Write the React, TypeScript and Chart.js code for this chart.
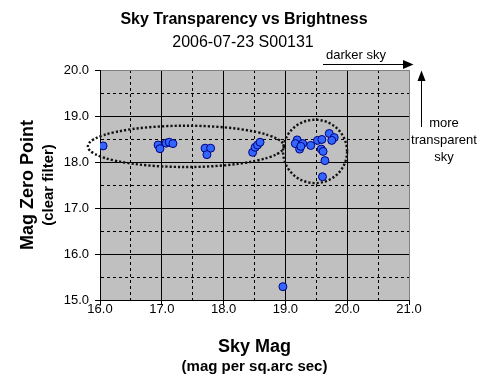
import React, { useEffect, useRef } from 'react';
import { Chart, registerables } from 'chart.js';

Chart.register(...registerables);

// Data
const skyMag = [
  16.05, 16.94, 16.97, 17.07, 17.12, 17.18, 17.70, 17.79, 17.73,
  18.47, 18.51, 18.55, 18.59, 18.96,
  19.19, 19.16, 19.28, 19.23, 19.25, 19.41, 19.52, 19.59, 19.58,
  19.61, 19.64, 19.60, 19.71, 19.79, 19.75,
];
const zeroPoint = [
  18.35, 18.37, 18.29, 18.41, 18.43, 18.40, 18.30, 18.30, 18.16,
  18.21, 18.32, 18.37, 18.43, 15.29,
  18.48, 18.40, 18.40, 18.28, 18.34, 18.36, 18.47, 18.49, 18.28,
  18.23, 18.03, 17.68, 18.62, 18.53, 18.47,
];

const xRange = [16, 21];
const yRange = [15, 20];

// Highlight ellipses (data units): centre x, centre y, radius x, radius y
const ellipseCx = [17.39, 19.48];
const ellipseCy = [18.34, 18.23];
const ellipseRx = [1.586, 0.518];
const ellipseRy = [0.449, 0.689];

const titleText = 'Sky Transparency vs Brightness';
const subtitleText = '2006-07-23 S00131';
const xTitle = 'Sky Mag';
const xSubTitle = '(mag per sq.arc sec)';
const yTitle = 'Mag Zero Point';
const ySubTitle = '(clear filter)';
const noteDarker = 'darker sky';
const noteTransparent = ['more', 'transparent', 'sky'];

const FONT = '"Liberation Sans", Arial, sans-serif';

const isMajor = (v: number) => Math.abs(v - Math.round(v)) < 1e-6;

const decorPlugin = {
  id: 'decor',
  beforeDraw(chart: any) {
    const { ctx, chartArea } = chart;
    ctx.save();
    ctx.fillStyle = '#c0c0c0';
    ctx.fillRect(chartArea.left, chartArea.top, chartArea.right - chartArea.left, chartArea.bottom - chartArea.top);
    ctx.restore();
  },
  afterDatasetsDraw(chart: any) {
    const { ctx } = chart;
    const xs = chart.scales.x;
    const ys = chart.scales.y;
    ctx.save();
    ctx.strokeStyle = '#111';
    ctx.lineWidth = 2.4;
    ctx.setLineDash([2.2, 2]);
    for (let i = 0; i < ellipseCx.length; i++) {
      const cx = xs.getPixelForValue(ellipseCx[i]);
      const cy = ys.getPixelForValue(ellipseCy[i]);
      const rx = Math.abs(xs.getPixelForValue(ellipseCx[i] + ellipseRx[i]) - cx);
      const ry = Math.abs(ys.getPixelForValue(ellipseCy[i] + ellipseRy[i]) - cy);
      ctx.beginPath();
      ctx.ellipse(cx, cy, rx, ry, 0, 0, Math.PI * 2);
      ctx.stroke();
    }
    ctx.restore();
  },
  afterDraw(chart: any) {
    const { ctx, chartArea } = chart;
    const midX = (chartArea.left + chartArea.right) / 2;
    const midY = (chartArea.top + chartArea.bottom) / 2;
    ctx.save();
    ctx.fillStyle = '#000';
    ctx.textAlign = 'center';
    ctx.textBaseline = 'alphabetic';
    // titles
    ctx.font = `bold 16px ${FONT}`;
    ctx.fillText(titleText, 244, 24);
    ctx.font = `16px ${FONT}`;
    ctx.fillText(subtitleText, 243, 47);
    // x axis titles
    ctx.font = `bold 18px ${FONT}`;
    ctx.fillText(xTitle, midX, 352);
    ctx.font = `bold 15px ${FONT}`;
    ctx.fillText(xSubTitle, midX, 371);
    // y axis titles
    ctx.save();
    ctx.translate(33, midY);
    ctx.rotate(-Math.PI / 2);
    ctx.font = `bold 18px ${FONT}`;
    ctx.fillText(yTitle, 0, 0);
    ctx.restore();
    ctx.save();
    ctx.translate(53, midY);
    ctx.rotate(-Math.PI / 2);
    ctx.font = `bold 15px ${FONT}`;
    ctx.fillText(ySubTitle, 0, 0);
    ctx.restore();
    // notes
    ctx.font = `13px ${FONT}`;
    ctx.fillText(noteDarker, 356, 59);
    const lineY = [127, 144, 161];
    noteTransparent.forEach((t, i) => ctx.fillText(t, 444, lineY[i]));
    // horizontal arrow
    ctx.strokeStyle = '#000';
    ctx.lineWidth = 1;
    ctx.beginPath();
    ctx.moveTo(323, 64.5);
    ctx.lineTo(404, 64.5);
    ctx.stroke();
    ctx.beginPath();
    ctx.moveTo(403, 60);
    ctx.lineTo(413.5, 64.5);
    ctx.lineTo(403, 69);
    ctx.closePath();
    ctx.fill();
    // vertical arrow
    ctx.beginPath();
    ctx.moveTo(421.5, 80);
    ctx.lineTo(421.5, 127);
    ctx.stroke();
    ctx.beginPath();
    ctx.moveTo(417.5, 81);
    ctx.lineTo(421.5, 70.5);
    ctx.lineTo(425.5, 81);
    ctx.closePath();
    ctx.fill();
    ctx.restore();
  },
};

export default function App() {
  const canvasRef = useRef<HTMLCanvasElement | null>(null);

  useEffect(() => {
    document.body.style.margin = '0';
    const canvas = canvasRef.current;
    if (!canvas) return;
    const points = skyMag.map((x, i) => ({ x, y: zeroPoint[i] }));
    const tickCb = (v: any) => (isMajor(Number(v)) ? Number(v).toFixed(1) : '');
    const gridColor = (max: number) => (c: any) =>
      c.tick && Math.abs(c.tick.value - max) < 1e-6 ? '#808080' : '#000';
    const tickColor = (c: any) => (c.tick && isMajor(c.tick.value) ? '#000' : 'rgba(0,0,0,0)');
    const dash = (c: any) => (c.tick && !isMajor(c.tick.value) ? [3, 3] : []);

    const chart = new Chart(canvas, {
      type: 'scatter',
      data: {
        datasets: [
          {
            data: points,
            pointRadius: 4,
            pointHoverRadius: 4,
            backgroundColor: '#3366ff',
            borderColor: '#000080',
            borderWidth: 1,
            showLine: false,
          },
        ],
      },
      options: {
        animation: false,
        responsive: false,
        events: [],
        layout: { padding: { top: 70, right: 79, bottom: 0, left: 0 } },
        plugins: {
          legend: { display: false },
          tooltip: { enabled: false },
          title: { display: false },
        },
        scales: {
          x: {
            type: 'linear',
            min: xRange[0],
            max: xRange[1],
            afterFit: (s: any) => {
              s.height = 92;
            },
            ticks: {
              stepSize: 0.5,
              autoSkip: false,
              maxRotation: 0,
              callback: tickCb,
              color: '#000',
              padding: -3,
              font: { family: FONT, size: 13 },
            },
            grid: {
              color: gridColor(xRange[1]),
              lineWidth: 1,
              tickLength: 5,
              tickColor,
            },
            border: { display: true, color: '#000', width: 1, dash },
          },
          y: {
            type: 'linear',
            min: yRange[0],
            max: yRange[1],
            afterFit: (s: any) => {
              s.width = 100;
            },
            ticks: {
              stepSize: 0.5,
              autoSkip: false,
              callback: tickCb,
              color: '#000',
              padding: 6,
              font: { family: FONT, size: 13 },
            },
            grid: {
              color: gridColor(yRange[1]),
              lineWidth: 1,
              tickLength: 5,
              tickColor,
            },
            border: { display: true, color: '#000', width: 1, dash },
          },
        },
      } as any,
      plugins: [decorPlugin],
    });
    return () => chart.destroy();
  }, []);

  return (
    <div style={{ width: 488, height: 392 }}>
      <canvas ref={canvasRef} width={488} height={392} />
    </div>
  );
}
